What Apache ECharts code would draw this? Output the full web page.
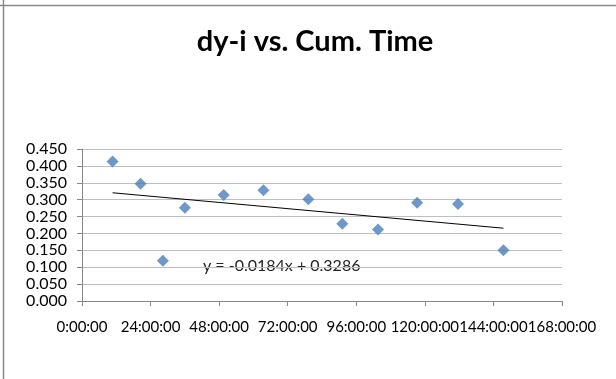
<!DOCTYPE html>
<html><head><meta charset="utf-8">
<script src="https://cdn.jsdelivr.net/npm/echarts@6/dist/echarts.min.js"></script>
<style>html,body{margin:0;padding:0;background:#fff}#c{width:616px;height:379px}</style>
</head><body><div id="c"></div>
<script>
// Cumulative time in hours
const cumTimeHours = [10.7, 20.5, 28.3, 36.0, 49.6, 63.5, 79.2, 91.1, 103.6, 117.3, 131.6, 147.5];
const dyValues = [0.413, 0.347, 0.119, 0.276, 0.314, 0.328, 0.301, 0.229, 0.212, 0.291, 0.287, 0.150];
// Trendline (x in days): y = -0.0184x + 0.3286
const trendSlopePerDay = -0.0184;
const trendIntercept = 0.3286;
const xTicks = [0, 24, 48, 72, 96, 120, 144, 168];
const yTicks = [0, 0.05, 0.1, 0.15, 0.2, 0.25, 0.3, 0.35, 0.4, 0.45];

const xFirst = Math.min(...cumTimeHours), xLast = Math.max(...cumTimeHours);
const trend = [xFirst, xLast].map(h => [h, trendIntercept + trendSlopePerDay * h / 24]);

const chart = echarts.init(document.getElementById('c'));
const FONT = 'Lato';
chart.setOption({
  animation: false,
  title: {
    text: 'dy-i vs. Cum. Time', left: 310, top: 22, textAlign: 'center',
    textStyle: {fontFamily: FONT, fontWeight: 'bold', fontSize: 29, color: '#000'}
  },
  grid: {left: 82, right: 54, top: 149, bottom: 78},
  xAxis: {
    type: 'value', min: 0, max: 168, interval: 24,
    axisLine: {show: true, lineStyle: {color: '#868686'}},
    axisTick: {show: true, length: 5, lineStyle: {color: '#868686'}},
    splitLine: {show: false},
    axisLabel: {margin: 19, fontFamily: FONT, fontSize: 15, color: '#000',
      formatter: v => v + ':00:00'}
  },
  yAxis: {
    type: 'value', min: 0, max: 0.45, interval: 0.05,
    axisLine: {show: true, lineStyle: {color: '#868686'}},
    axisTick: {show: true, length: 5, lineStyle: {color: '#868686'}},
    splitLine: {show: true, lineStyle: {color: '#bfbfbf'}},
    axisLabel: {margin: 15, fontFamily: FONT, fontSize: 16, color: '#000',
      formatter: v => v.toFixed(3)}
  },
  series: [
    {type: 'line', data: trend, symbol: 'none', lineStyle: {color: '#000', width: 1}, z: 2},
    {type: 'scatter', data: cumTimeHours.map((h, i) => [h, dyValues[i]]),
      symbol: 'diamond', symbolSize: [12, 12], itemStyle: {color: '#4a7ebb'}, z: 3}
  ],
  graphic: [
    {type: 'line', shape: {x1: 3.5, y1: 0, x2: 3.5, y2: 379}, style: {stroke: '#888', lineWidth: 1.5}},
    {type: 'line', shape: {x1: 0, y1: 5.5, x2: 616, y2: 5.5}, style: {stroke: '#888', lineWidth: 1.5}},
    {type: 'text', left: 203, top: 258,
      style: {text: 'y = -0.0184x + 0.3286', fontFamily: FONT, fontSize: 16, fill: '#222'}}
  ]
});
</script></body></html>
